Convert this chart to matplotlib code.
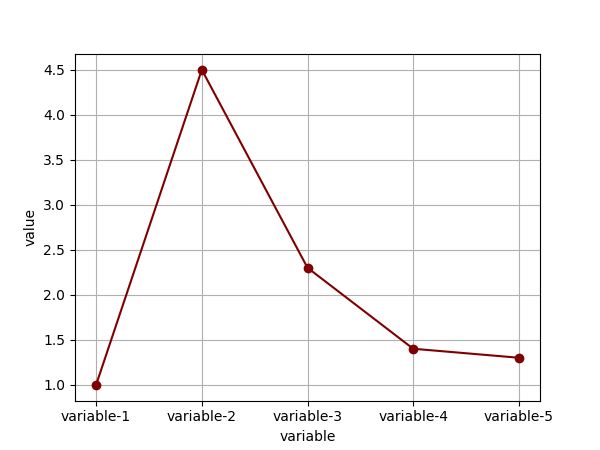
import matplotlib
matplotlib.use("Agg")
import matplotlib.pyplot as plt

variables = ["variable-1", "variable-2", "variable-3", "variable-4", "variable-5"]
values = [1.0, 4.5, 2.3, 1.4, 1.3]

fig, ax = plt.subplots(figsize=(6, 4.5), dpi=100)
ax.plot(variables, values, color="maroon", marker="o")
ax.grid(True)
ax.set_xlabel("variable")
ax.set_ylabel("value")
fig.savefig("out.png")
